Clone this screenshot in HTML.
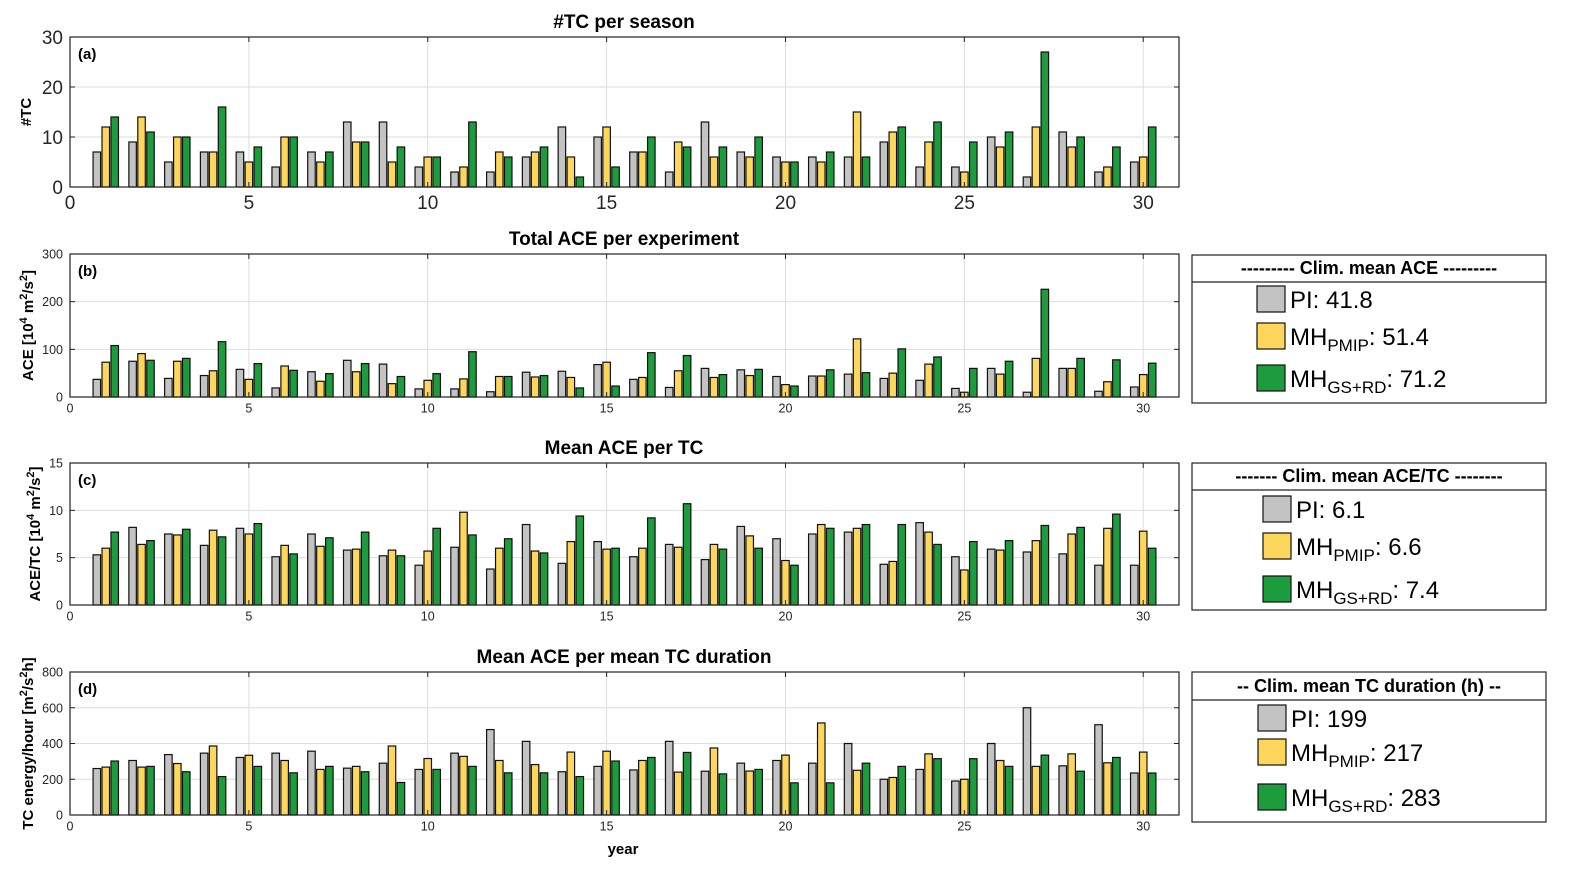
<!DOCTYPE html>
<html><head><meta charset="utf-8"><style>
body{margin:0;background:#fff}
svg{display:block;font-family:"Liberation Sans","DejaVu Sans",sans-serif}
</style></head><body>
<svg id="fig" width="1579" height="882" viewBox="0 0 1579 882"></svg>
<script>
const years = Array.from({length:30},(_,i)=>i+1);
const tcPI   = [7,9,5,7,7,4,7,13,13,4,3,3,6,12,10,7,3,13,7,6,6,6,9,4,4,10,2,11,3,5];
const tcPMIP = [12,14,10,7,5,10,5,9,5,6,4,7,7,6,12,7,9,6,6,5,5,15,11,9,3,8,12,8,4,6];
const tcGS   = [14,11,10,16,8,10,7,9,8,6,13,6,8,2,4,10,8,8,10,5,7,6,12,13,9,11,27,10,8,12];
const acePI   = [37,75,39,45,58,19,53,77,69,17,17,11,52,54,68,37,20,60,57,43,44,48,39,35,18,60,10,60,12,21];
const acePMIP = [73,91,75,55,37,65,33,53,28,35,38,43,42,41,73,41,55,41,45,26,44,122,50,69,10,48,81,60,32,47];
const aceGS   = [108,77,81,116,70,56,49,70,43,49,95,43,45,19,23,93,87,47,58,23,57,51,101,84,60,75,226,81,78,71];
const atcPI   = [5.3,8.2,7.5,6.3,8.1,5.1,7.5,5.8,5.2,4.2,6.1,3.8,8.5,4.4,6.7,5.1,6.4,4.8,8.3,7.0,7.5,7.7,4.3,8.7,5.1,5.9,5.6,5.4,4.2,4.2];
const atcPMIP = [6.0,6.4,7.4,7.9,7.5,6.3,6.2,5.9,5.8,5.7,9.8,6.0,5.7,6.7,5.9,6.0,6.1,6.4,7.3,4.7,8.5,8.1,4.6,7.7,3.7,5.8,6.8,7.5,8.1,7.8];
const atcGS   = [7.7,6.8,8.0,7.2,8.6,5.4,7.1,7.7,5.2,8.1,7.4,7.0,5.5,9.4,6.0,9.2,10.7,5.9,6.0,4.2,8.1,8.5,8.5,6.4,6.7,6.8,8.4,8.2,9.6,6.0];
const ehPI   = [260,305,338,346,322,346,357,262,290,255,346,478,412,242,272,252,412,245,290,305,290,400,200,255,190,400,600,275,505,235];
const ehPMIP = [268,268,288,386,334,305,255,272,386,316,328,305,282,352,357,305,240,375,246,335,515,250,210,342,200,305,272,342,292,352];
const ehGS   = [302,272,242,215,272,236,272,242,182,255,272,236,236,215,302,322,350,230,255,180,180,290,272,315,315,272,335,245,322,235];
const xTicks = [0,5,10,15,20,25,30];

const NS="http://www.w3.org/2000/svg";
const svg=document.getElementById('fig');
function mk(tag,attrs,parent){const e=document.createElementNS(NS,tag);for(const k in attrs)e.setAttribute(k,attrs[k]);(parent||svg).appendChild(e);return e;}
const X0=70,X1=1179,XMAX=31;
const xs=v=>X0+v*(X1-X0)/XMAX;
const cols=['#c3c3c3','#fdd75c','#1c9c3c'];

function panel(key,top,bot,ymax,yTicks,series,title,label,tickFont,ylabelHTML,ylx){
  const g=mk('g',{});
  
  
  const ys=v=>bot-v*(bot-top)/ymax;
  // grid
  xTicks.forEach(t=>{if(t>0){const l=mk('line',{x1:xs(t),x2:xs(t),y1:top,y2:bot,stroke:'#dedede','stroke-width':1},g);}});
  yTicks.forEach(t=>{if(t>0&&t<ymax){const l=mk('line',{x1:X0,x2:X1,y1:ys(t),y2:ys(t),stroke:'#dedede','stroke-width':1},g);}});
  // bars
  const bw=7.5;
  series.forEach((arr,si)=>{
    arr.forEach((v,i)=>{
      const cx=xs(years[i]+(si-1)*0.25);
      const r=mk('rect',{x:cx-bw/2,y:ys(v),width:bw,height:bot-ys(v),fill:cols[si],stroke:'#111','stroke-width':1.2},g);
      
      
    });
  });
  // box
  const b=mk('rect',{x:X0,y:top,width:X1-X0,height:bot-top,fill:'none',stroke:'#222','stroke-width':1.2},g);
  
  
  // ticks + labels
  xTicks.forEach(t=>{
    mk('line',{x1:xs(t),x2:xs(t),y1:bot,y2:bot-5,stroke:'#222'},g);
    mk('line',{x1:xs(t),x2:xs(t),y1:top,y2:top+5,stroke:'#222'},g);
    const tx=mk('text',{x:xs(t),y:bot+tickFont+3,'font-size':tickFont,'text-anchor':'middle',fill:'#262626'},g);
    tx.textContent=t;
    
    
  });
  yTicks.forEach(t=>{
    mk('line',{x1:X0,x2:X0+5,y1:ys(t),y2:ys(t),stroke:'#222'},g);
    mk('line',{x1:X1,x2:X1-5,y1:ys(t),y2:ys(t),stroke:'#222'},g);
    const tx=mk('text',{x:X0-7,y:ys(t)+tickFont*0.36,'font-size':tickFont,'text-anchor':'end',fill:'#262626'},g);
    tx.textContent=t;
    
    
  });
  const tt=mk('text',{x:624,y:top-9,'font-size':19,'font-weight':'bold','text-anchor':'middle'},g);
  tt.textContent=title;
  
  
  const pl=mk('text',{x:78,y:top+22,'font-size':15,'font-weight':'bold'},g);
  pl.textContent=label;
  
  
  const yl=mk('text',{x:ylx,y:(top+bot)/2,'font-size':15,'font-weight':'bold','text-anchor':'middle',transform:`rotate(-90 ${ylx} ${(top+bot)/2})`},g);
  yl.innerHTML=ylabelHTML;
  
  
}
panel('a',37,187,30,[0,10,20,30],[tcPI,tcPMIP,tcGS],'#TC per season','(a)',19,'#TC',31);
panel('b',254,397,300,[0,100,200,300],[acePI,acePMIP,aceGS],'Total ACE per experiment','(b)',12.5,'ACE [10<tspan dy="-6" font-size="11">4</tspan><tspan dy="6"> m</tspan><tspan dy="-6" font-size="11">2</tspan><tspan dy="6">/s</tspan><tspan dy="-6" font-size="11">2</tspan><tspan dy="6">]</tspan>',33);
panel('c',463,605,15,[0,5,10,15],[atcPI,atcPMIP,atcGS],'Mean ACE per TC','(c)',12.5,'ACE/TC [10<tspan dy="-6" font-size="11">4</tspan><tspan dy="6"> m</tspan><tspan dy="-6" font-size="11">2</tspan><tspan dy="6">/s</tspan><tspan dy="-6" font-size="11">2</tspan><tspan dy="6">]</tspan>',40);
panel('d',672,815,800,[0,200,400,600,800],[ehPI,ehPMIP,ehGS],'Mean ACE per mean TC duration','(d)',12.5,'TC energy/hour [m<tspan dy="-6" font-size="11">2</tspan><tspan dy="6">/s</tspan><tspan dy="-6" font-size="11">2</tspan><tspan dy="6">h]</tspan>',33);
const xl=mk('text',{x:623,y:854,'font-size':15,'font-weight':'bold','text-anchor':'middle'});
xl.textContent='year';



function legend(key,top,bot,titleBottom,title,vals,sx,rowsY){
  const g=mk('g',{});
  
  
  mk('rect',{x:1192,y:top,width:354,height:bot-top,fill:'#fff',stroke:'#222','stroke-width':1.2},g);
  mk('line',{x1:1192,x2:1546,y1:titleBottom,y2:titleBottom,stroke:'#222','stroke-width':1.2},g);
  const t=mk('text',{x:1369,y:titleBottom-8,'font-size':18,'font-weight':'bold','text-anchor':'middle'},g);
  t.textContent=title;
  
  
  const names=['PI','MH<tspan font-size="17" dy="6">PMIP</tspan><tspan dy="-6">','MH<tspan font-size="17" dy="6">GS+RD</tspan><tspan dy="-6">'];
  vals.forEach((v,i)=>{
    const r=mk('rect',{x:sx,y:rowsY[i]-13,width:28,height:26,fill:cols[i],stroke:'#111','stroke-width':1.2},g);
    
    
    const tx=mk('text',{x:sx+33,y:rowsY[i]+9,'font-size':24},g);
    tx.innerHTML=names[i]+': '+v+(i>0?'</tspan>':'');
    
    
  });
}
legend('ace',255,403,282,'--------- Clim. mean ACE ---------',['41.8','51.4','71.2'],1257,[299,336,378]);
legend('acetc',463,610,490,'------- Clim. mean ACE/TC --------',['6.1','6.6','7.4'],1263,[509,546,589]);
legend('dur',672,822,700,'-- Clim. mean TC duration (h) --',['199','217','283'],1258,[718,752,797]);
</script>
</body></html>
